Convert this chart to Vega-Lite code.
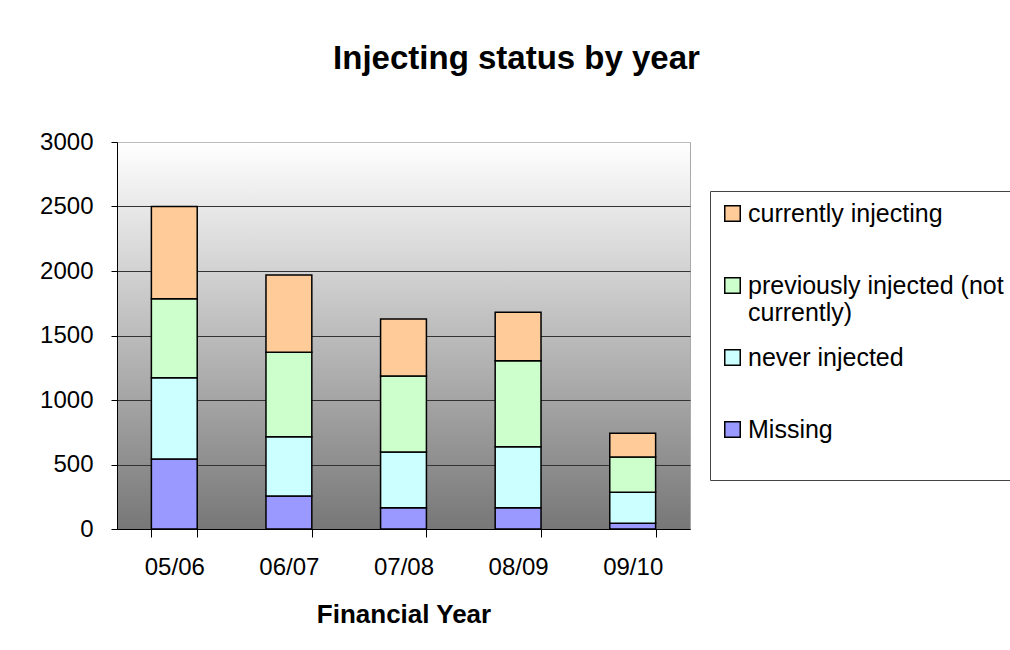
{
  "$schema": "https://vega.github.io/schema/vega-lite/v6.json",
  "width": 573,
  "height": 387,
  "autosize": "none",
  "padding": {"left": 117, "top": 142, "right": 320, "bottom": 121},
  "background": "white",
  "title": {
    "text": "Injecting status by year",
    "font": "Liberation Sans",
    "fontSize": 33,
    "fontWeight": "bold",
    "color": "black",
    "anchor": "middle",
    "frame": "group",
    "dx": 113,
    "offset": 54
  },
  "data": {
    "values": [
      {"year": "05/06", "status": "Missing", "count": 543},
      {"year": "05/06", "status": "never injected", "count": 630},
      {"year": "05/06", "status": "previously injected (not currently)", "count": 612},
      {"year": "05/06", "status": "currently injecting", "count": 715},
      {"year": "06/07", "status": "Missing", "count": 256},
      {"year": "06/07", "status": "never injected", "count": 460},
      {"year": "06/07", "status": "previously injected (not currently)", "count": 654},
      {"year": "06/07", "status": "currently injecting", "count": 599},
      {"year": "07/08", "status": "Missing", "count": 165},
      {"year": "07/08", "status": "never injected", "count": 432},
      {"year": "07/08", "status": "previously injected (not currently)", "count": 589},
      {"year": "07/08", "status": "currently injecting", "count": 442},
      {"year": "08/09", "status": "Missing", "count": 165},
      {"year": "08/09", "status": "never injected", "count": 473},
      {"year": "08/09", "status": "previously injected (not currently)", "count": 667},
      {"year": "08/09", "status": "currently injecting", "count": 375},
      {"year": "09/10", "status": "Missing", "count": 44},
      {"year": "09/10", "status": "never injected", "count": 240},
      {"year": "09/10", "status": "previously injected (not currently)", "count": 274},
      {"year": "09/10", "status": "currently injecting", "count": 184}
    ]
  },
  "transform": [
    {"calculate": "indexof(['Missing','never injected','previously injected (not currently)','currently injecting'], datum.status)", "as": "order"}
  ],
  "mark": {"type": "bar", "stroke": "black", "strokeWidth": 1.5},
  "encoding": {
    "x": {
      "field": "year",
      "type": "nominal",
      "scale": {"paddingInner": 0.6, "paddingOuter": 0.3},
      "axis": {
        "title": "Financial Year",
        "labelAngle": 0,
        "tickBand": "extent",
        "labelPadding": 18,
        "titlePadding": 22,
        "tickSize": 8,
        "grid": false
      }
    },
    "y": {
      "field": "count",
      "type": "quantitative",
      "stack": "zero",
      "scale": {"domain": [0, 3000], "nice": false},
      "axis": {
        "title": null,
        "format": "d",
        "values": [0, 500, 1000, 1500, 2000, 2500, 3000],
        "tickSize": 6,
        "labelPadding": 18,
        "gridColor": {"condition": {"test": "datum.value == 3000", "value": "#bbbbbb"}, "value": "#333333"},
        "gridWidth": 1
      }
    },
    "color": {
      "field": "status",
      "type": "nominal",
      "scale": {
        "domain": ["currently injecting", "previously injected (not currently)", "never injected", "Missing"],
        "range": ["#FFCC99", "#CCFFCC", "#CCFFFF", "#9999FF"]
      },
      "legend": {
        "title": null,
        "orient": "none",
        "legendX": 593,
        "legendY": 49,
        "symbolType": "square",
        "symbolSize": 240,
        "symbolStrokeColor": "black",
        "symbolStrokeWidth": 1.5,
        "labelFont": "Liberation Sans",
        "labelFontSize": 25,
        "labelLineHeight": 33,
        "labelColor": "black",
        "labelLimit": 400,
        "labelOffset": 3,
        "rowPadding": 19,
        "padding": 10,
        "strokeColor": "#444444",
        "fillColor": "white",
        "labelExpr": "datum.label == 'previously injected (not currently)' ? ['previously injected (not', 'currently)'] : [datum.label, '']"
      }
    },
    "order": {"field": "order", "type": "quantitative"}
  },
  "config": {
    "view": {
      "stroke": "#aaaaaa",
      "fill": {
        "gradient": "linear",
        "x1": 0, "y1": 0, "x2": 0, "y2": 1,
        "stops": [
          {"offset": 0, "color": "#ffffff"},
          {"offset": 1, "color": "#777777"}
        ]
      }
    },
    "axis": {
      "labelFont": "Liberation Sans",
      "labelFontSize": 24,
      "labelColor": "black",
      "titleFont": "Liberation Sans",
      "titleFontSize": 26,
      "titleFontWeight": "bold",
      "titleColor": "black",
      "domainColor": "black",
      "tickColor": "black"
    }
  }
}
